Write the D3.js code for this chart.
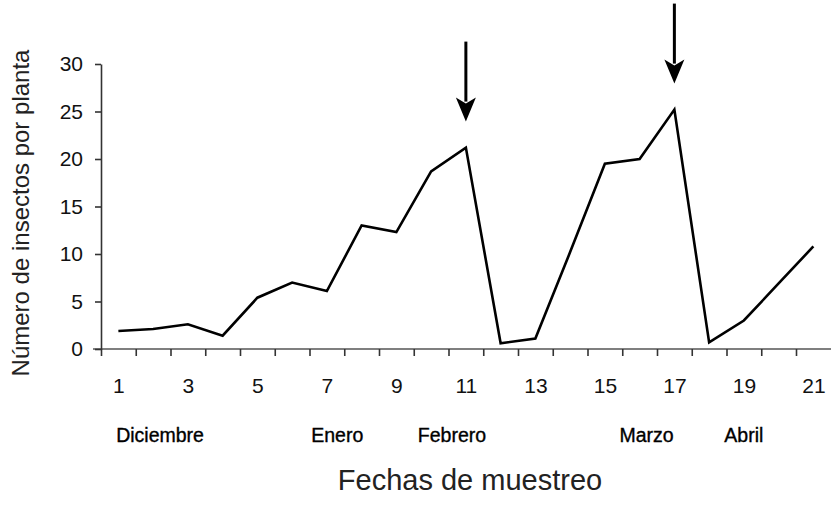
<!DOCTYPE html>
<html><head><meta charset="utf-8">
<script src="https://cdn.jsdelivr.net/npm/d3@7"></script>
<style>body{margin:0;background:#fff}svg{display:block}</style>
</head><body><svg id="c" width="831" height="506"></svg>
<script>
const fechas = d3.range(1, 22);
const insectos = [1.9, 2.1, 2.6, 1.4, 5.4, 7.0, 6.1, 13.0, 12.3, 18.7, 21.2, 0.6, 1.1, 10.2, 19.5, 20.0, 25.2, 0.7, 3.0, 6.9, 10.8];
const yTicks = [0, 5, 10, 15, 20, 25, 30];
const xTickLabels = [1, 3, 5, 7, 9, 11, 13, 15, 17, 19, 21];
const meses = ["Diciembre", "Enero", "Febrero", "Marzo", "Abril"];
const mesesPos = [2.2, 7.3, 10.6, 16.2, 19.0];
const flechas = [11, 17];

const svg = d3.select("#c");
const font = "'Liberation Sans', Arial, sans-serif";
const x = d3.scaleLinear().domain([0.5, 21.5]).range([101, 830.75]);
const y = d3.scaleLinear().domain([0, 30]).range([349, 64]);

// x axis ticks (category boundaries)
const gx = svg.append("g").attr("transform", `translate(0,${y(0)})`)
  .call(d3.axisBottom(x).tickValues(d3.range(0.5, 21, 1)).tickSize(7).tickSizeOuter(0).tickFormat(""));
gx.select(".domain").attr("d", `M93,0H831`);
gx.selectAll("line").attr("stroke", "#333").attr("stroke-width", 1.6);
gx.select(".domain").attr("stroke", "#555").attr("stroke-width", 1.6);

// x labels
const gxl = svg.append("g").attr("transform", `translate(0,${y(0)})`)
  .call(d3.axisBottom(x).tickValues(xTickLabels).tickSize(0).tickPadding(29));
gxl.select(".domain").remove();
gxl.selectAll("text").attr("font-family", font).attr("font-size", 21).attr("fill", "#111");

// y axis
const gy = svg.append("g").attr("transform", `translate(${x(0.5)},0)`)
  .call(d3.axisLeft(y).tickValues(yTicks).tickSize(6).tickSizeOuter(0).tickPadding(12));
gy.select(".domain").attr("stroke", "#333").attr("stroke-width", 1.6);
gy.selectAll("line").attr("stroke", "#333").attr("stroke-width", 1.6);
gy.selectAll("text").attr("font-family", font).attr("font-size", 21).attr("fill", "#111");

// line
svg.append("path").datum(fechas.map((f, i) => [f, insectos[i]]))
  .attr("fill", "none").attr("stroke", "#000").attr("stroke-width", 2.6)
  .attr("stroke-linejoin", "miter")
  .attr("d", d3.line().x(d => x(d[0])).y(d => y(d[1])));

// arrows
flechas.forEach(f => {
  const v = insectos[f - 1];
  const tip = y(v) - 26;
  const cx = x(f);
  svg.append("line").attr("x1", cx).attr("x2", cx).attr("y1", tip - 80).attr("y2", tip - 20)
    .attr("stroke", "#000").attr("stroke-width", 3);
  svg.append("path")
    .attr("d", `M${cx},${tip} L${cx - 10},${tip - 24} L${cx},${tip - 18} L${cx + 10},${tip - 24} Z`)
    .attr("fill", "#000");
});

// month labels
svg.append("g").selectAll("text").data(meses).join("text")
  .attr("x", (d, i) => x(mesesPos[i])).attr("y", 442)
  .attr("text-anchor", "middle").attr("font-family", font).attr("font-size", 19.5)
  .attr("fill", "#000").attr("stroke", "#000").attr("stroke-width", 0.35).text(d => d);

// axis titles
svg.append("text").attr("x", 470).attr("y", 490).attr("text-anchor", "middle")
  .attr("font-family", font).attr("font-size", 29).attr("fill", "#222").text("Fechas de muestreo");
svg.append("text").attr("transform", `translate(29,213) rotate(-90)`).attr("text-anchor", "middle")
  .attr("font-family", font).attr("font-size", 24).attr("fill", "#222").text("Número de insectos por planta");
</script></body></html>
